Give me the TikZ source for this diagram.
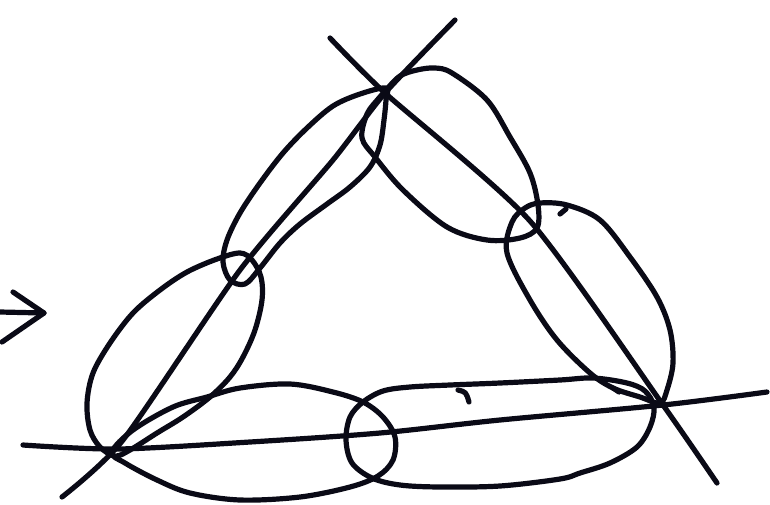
\documentclass[tikz,border=0pt]{standalone}
\definecolor{ink}{RGB}{10,10,22}
\begin{document}
\begin{tikzpicture}[x=1pt,y=-1pt,
  pen/.style={draw=ink,line width=5.2pt,line cap=round,line join=round},
  loop/.style={pen,smooth cycle,tension=0.55},
  stroke/.style={pen,smooth,tension=0.5}]
\useasboundingbox (0,0) rectangle (770,504);
% vertices
\coordinate (T) at (385,93);
\coordinate (BL) at (118,449);
\coordinate (BR) at (663,405);
\coordinate (Lm) at (240,270);
\coordinate (Rm) at (530,221);
% arrow on the left
\draw[pen] (0,312) -- (44,313);
\draw[pen] (13,292) -- (44,313) -- (2,342);
% triangle edges (lines extended beyond vertices)
\draw[pen] plot[smooth,tension=0.4] coordinates {(455,20) (T) (333,160) (Lm) (123,440) (62,497)};
\draw[pen] plot[smooth,tension=0.4] coordinates {(330,38) (T) (Rm) (BR) (717,483)};
\draw[pen] plot[smooth,tension=0.5] coordinates {(23,445) (BL) (250,442) (380,433) (500,420) (BR) (767,392)};
% A: upper-left loop
\draw[pen] plot[loop] coordinates {(386,88) (360,94) (333,106) (307,128) (283,153) (260,183) (240,213) (227,240) (223,262) (230,280) (245,284) (260,268) (280,243) (300,224) (327,204) (350,187) (370,167) (380,145) (384,120) (386,100)};
% B: lower-left loop
\draw[pen] plot[loop] coordinates {(240,253) (217,259) (187,272) (160,290) (133,313) (110,343) (93,373) (87,403) (90,430) (100,447) (115,456) (130,450) (157,433) (183,417) (210,397) (230,377) (243,357) (255,330) (262,300) (261,277) (252,260)};
% C: upper-right loop
\draw[pen] plot[loop] coordinates {(386,90) (400,76) (417,70) (435,68) (452,73) (487,100) (510,137) (530,173) (538,205) (537,228) (520,238) (487,240) (447,227) (403,190) (375,157) (362,138) (367,114) (379,98)};
% D: lower-right loop
\draw[pen] plot[loop] coordinates {(512,222) (525,208) (540,203) (567,205) (600,220) (630,257) (657,297) (670,330) (673,363) (667,390) (660,403) (640,397) (613,388) (590,373) (557,340) (530,300) (507,253)};
\draw[pen] (613,388) -- (619,392);
% E: bottom-left loop
\draw[pen] plot[loop] coordinates {(112,452) (133,430) (173,407) (207,397) (240,388) (290,384) (333,392) (363,402) (383,417) (395,437) (393,460) (378,476) (350,487) (300,497) (240,500) (190,493) (157,480) (125,463)};
% F: bottom-right loop
\draw[pen] plot[loop] coordinates {(346,440) (350,417) (363,402) (383,391) (410,387) (450,385) (500,383) (560,380) (593,378) (627,383) (645,391) (654,407) (650,427) (637,447) (610,463) (580,473) (560,479) (500,486) (440,487) (400,485) (372,478) (352,463)};
\draw[pen] (458,390) .. controls (466,392) .. (469,402);
\draw[pen] (560,214) -- (566,209);
\end{tikzpicture}
\end{document}
